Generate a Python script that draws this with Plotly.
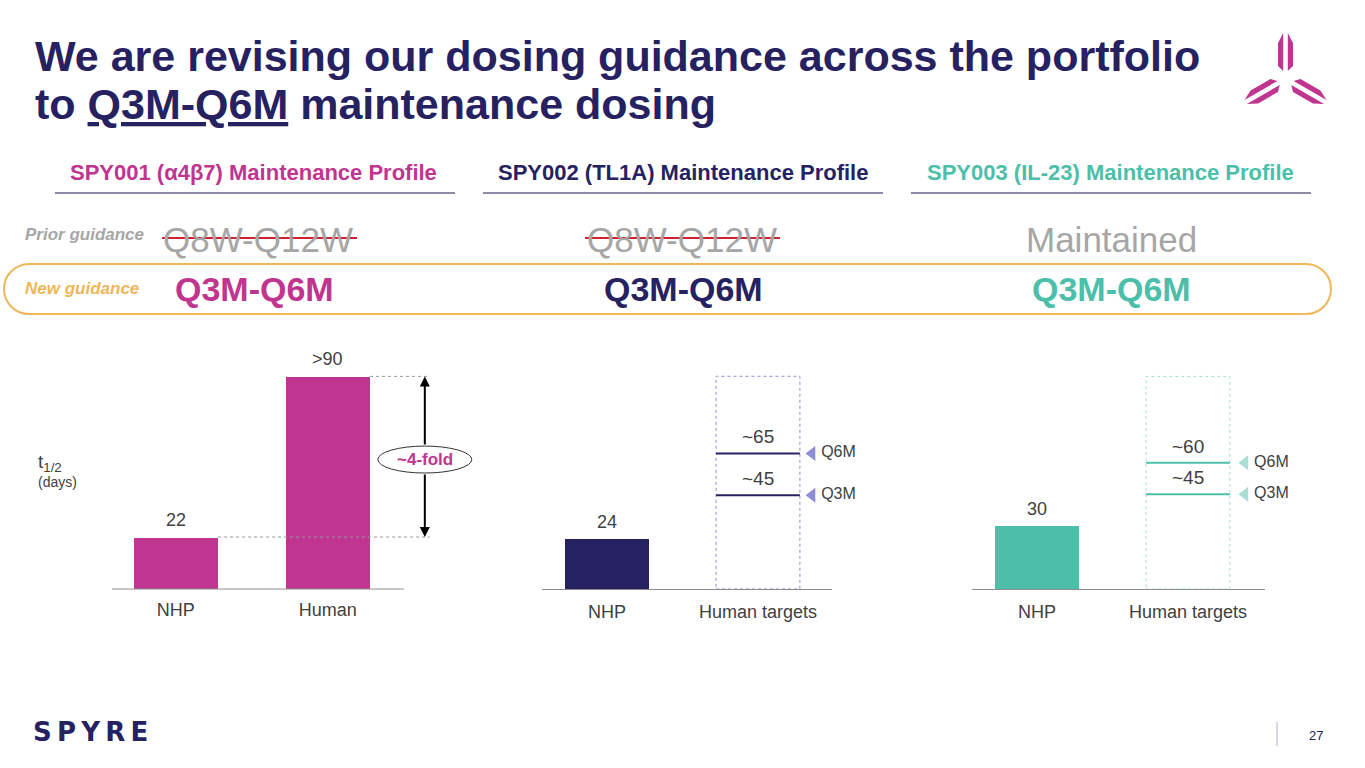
import math
import plotly.graph_objects as go

W, H = 1365, 768


def px(x):
    return x / W


def py(y):
    return 1 - y / H


# ---------------- data ----------------
title_lines = ["We are revising our dosing guidance across the portfolio",
               "to <u>Q3M-Q6M</u> maintenance dosing"]
headers = ["SPY001 (α4β7) Maintenance Profile", "SPY002 (TL1A) Maintenance Profile", "SPY003 (IL-23) Maintenance Profile"]
prior_guidance = ["Q8W-Q12W", "Q8W-Q12W", "Maintained"]
prior_struck = [True, True, False]
new_guidance = ["Q3M-Q6M", "Q3M-Q6M", "Q3M-Q6M"]

spy001_categories = ["NHP", "Human"]
spy001_halflife = [22, 90]
spy001_labels = ["22", ">90"]

target_categories = ["NHP", "Human targets"]
spy002_nhp = [24]
spy002_targets = [65, 45]
spy002_target_labels = ["~65", "~45"]
spy003_nhp = [30]
spy003_targets = [60, 45]
spy003_target_labels = ["~60", "~45"]
dosing_labels = ["Q6M", "Q3M"]
target_box_top = [102, 101]

# ---------------- style ----------------
FONT = "Arial, Liberation Sans, sans-serif"
MAGENTA = "#C0358F"
NAVY = "#262262"
TEAL = "#4BBFA9"
LAVENDER = "#8E8ED6"
LIGHT_TEAL = "#A9DDD5"
GREY_TXT = "#404040"
GREY_GUIDE = "#A6A6A6"
ORANGE = "#F0B65A"
RED = "#D3202E"
BAR_W = 0.555

fig = go.Figure()

fig.add_trace(go.Bar(x=[0, 1], y=spy001_halflife, width=BAR_W, marker_color=MAGENTA,
                     marker_line_width=0, xaxis="x", yaxis="y", hoverinfo="skip"))
fig.add_trace(go.Bar(x=[0], y=spy002_nhp, width=BAR_W, marker_color=NAVY,
                     marker_line_width=0, xaxis="x2", yaxis="y2", hoverinfo="skip"))
fig.add_trace(go.Bar(x=[0], y=spy003_nhp, width=BAR_W, marker_color=TEAL,
                     marker_line_width=0, xaxis="x3", yaxis="y3", hoverinfo="skip"))

annotations = []
shapes = []


def paper_text(x, y, text, size, color, xanchor="center", yanchor="middle", family=None, **kw):
    font = dict(size=size, color=color)
    if family:
        font["family"] = family
    d = dict(x=px(x), y=py(y), xref="paper", yref="paper", xanchor=xanchor, yanchor=yanchor,
             text=text, showarrow=False, font=font)
    d.update(kw)
    annotations.append(d)


for xa, ya, targets, tlabels, lcol, tcol, mx, btop in [
    ("x2", "y2", spy002_targets, spy002_target_labels, NAVY, LAVENDER, 1.358, target_box_top[0]),
    ("x3", "y3", spy003_targets, spy003_target_labels, TEAL, LIGHT_TEAL, 1.377, target_box_top[1]),
]:
    for v, lab in zip(targets, tlabels):
        fig.add_trace(go.Scatter(x=[1 - BAR_W / 2, 1 + BAR_W / 2], y=[v, v], mode="lines",
                                 line=dict(color=lcol, width=2), xaxis=xa, yaxis=ya,
                                 hoverinfo="skip"))
        annotations.append(dict(x=1, y=v, xref=xa, yref=ya, text=lab, showarrow=False,
                                xanchor="center", yanchor="bottom", yshift=4,
                                font=dict(size=19, color=GREY_TXT)))
    fig.add_trace(go.Scatter(x=[mx] * len(targets), y=targets, mode="markers+text",
                             marker=dict(symbol="triangle-left", size=13, color=tcol),
                             text=dosing_labels, textposition="middle right",
                             textfont=dict(size=16, color=GREY_TXT), cliponaxis=False,
                             xaxis=xa, yaxis=ya, hoverinfo="skip"))
    shapes.append(dict(type="rect", xref=xa, yref=ya, x0=1 - BAR_W / 2, x1=1 + BAR_W / 2,
                       y0=0, y1=btop, line=dict(color=tcol, width=1, dash="dot"),
                       fillcolor="rgba(0,0,0,0)", layer="below"))

for i, (v, lab) in enumerate(zip(spy001_halflife, spy001_labels)):
    annotations.append(dict(x=i, y=v, xref="x", yref="y", text=lab, showarrow=False,
                            xanchor="center", yanchor="bottom", yshift=5,
                            font=dict(size=18, color=GREY_TXT)))
for xa, ya, vals in [("x2", "y2", spy002_nhp), ("x3", "y3", spy003_nhp)]:
    annotations.append(dict(x=0, y=vals[0], xref=xa, yref=ya, text=str(vals[0]),
                            showarrow=False, xanchor="center", yanchor="bottom", yshift=5,
                            font=dict(size=18, color=GREY_TXT)))

# Chart 1 baseline + fold-change decoration
shapes.append(dict(type="line", xref="x", yref="y domain", x0=-0.42, x1=1.5, y0=0, y1=0,
                   line=dict(color="#8C8C8C", width=1)))
ARROW_X = 1.638
DOT_END = 1.671
shapes.append(dict(type="line", xref="x", yref="y", x0=1 + BAR_W / 2, x1=DOT_END,
                   y0=spy001_halflife[1], y1=spy001_halflife[1],
                   line=dict(color="#9A9A9A", width=1, dash="dot")))
shapes.append(dict(type="line", xref="x", yref="y", x0=BAR_W / 2, x1=DOT_END,
                   y0=spy001_halflife[0], y1=spy001_halflife[0],
                   line=dict(color="#9A9A9A", width=1, dash="dot")))
ELL_LO, ELL_HI = 49.1, 60.5
shapes.append(dict(type="circle", xref="x", yref="y", x0=1.329, x1=1.947, y0=ELL_LO, y1=ELL_HI,
                   line=dict(color="#333333", width=1), fillcolor="white", layer="above"))
annotations.append(dict(x=(1.329 + 1.947) / 2, y=(ELL_LO + ELL_HI) / 2, xref="x", yref="y",
                        xanchor="center", yanchor="middle",
                        text="<b>~4-fold</b>", showarrow=False,
                        font=dict(size=17, color=MAGENTA)))
for tip in spy001_halflife[::-1]:
    tail = ELL_HI if tip > ELL_HI else ELL_LO
    annotations.append(dict(x=ARROW_X, y=tip, ax=ARROW_X, ay=tail, xref="x", yref="y",
                            axref="x", ayref="y", text="", showarrow=True, arrowhead=2,
                            arrowsize=1, arrowwidth=2, arrowcolor="black", standoff=0,
                            startstandoff=0))

# t1/2 label
paper_text(36, 463, "t<sub>1/2</sub>", 19, GREY_TXT, xanchor="left")
paper_text(36, 482, "(days)", 14, GREY_TXT, xanchor="left")

# Title (two lines)
paper_text(33, 56, "<b>" + title_lines[0] + "</b>", 43, NAVY, xanchor="left")
paper_text(33, 104, "<b>" + title_lines[1] + "</b>", 43, NAVY, xanchor="left")

# Section headers / guidance rows
header_colors = [MAGENTA, NAVY, TEAL]
header_cx = [253, 683, 1110]
line_spans = [(55, 455), (483, 883), (911, 1311)]
prior_cx = [258, 682, 1111]
strike_spans = [(162, 357), (585, 780), None]
new_cx = [254, 683, 1111]
for i in range(3):
    paper_text(header_cx[i], 173, "<b>" + headers[i] + "</b>", 22, header_colors[i])
    shapes.append(dict(type="line", xref="paper", yref="paper", x0=px(line_spans[i][0]),
                       x1=px(line_spans[i][1]), y0=py(193), y1=py(193),
                       line=dict(color="#8C8AA6", width=2)))
    paper_text(prior_cx[i], 239, prior_guidance[i], 35, GREY_GUIDE)
    if prior_struck[i]:
        s = strike_spans[i]
        shapes.append(dict(type="line", xref="paper", yref="paper", x0=px(s[0]), x1=px(s[1]),
                           y0=py(238), y1=py(238), line=dict(color=RED, width=2), layer="above"))
    paper_text(new_cx[i], 289, "<b>" + new_guidance[i] + "</b>", 34, header_colors[i])

paper_text(23, 235, "<b><i>Prior guidance</i></b>", 17, GREY_GUIDE, xanchor="left")
paper_text(23, 289, "<b><i>New guidance</i></b>", 17, ORANGE, xanchor="left")

# rounded "new guidance" frame
L, R, T, B, r = 4, 1331, 264, 314, 25
k = 0.5523 * r
cy = (T + B) / 2


def P(x, y):
    return f"{px(x):.5f},{py(y):.5f}"


path = (f"M {P(L + r, T)} L {P(R - r, T)} "
        f"C {P(R - r + k, T)} {P(R, cy - k)} {P(R, cy)} "
        f"C {P(R, cy + k)} {P(R - r + k, B)} {P(R - r, B)} "
        f"L {P(L + r, B)} "
        f"C {P(L + r - k, B)} {P(L, cy + k)} {P(L, cy)} "
        f"C {P(L, cy - k)} {P(L + r - k, T)} {P(L + r, T)} Z")
shapes.append(dict(type="path", xref="paper", yref="paper", path=path,
                   line=dict(color=ORANGE, width=2), fillcolor="rgba(0,0,0,0)"))

# top-right logo (three double-stroke arms)
CX, CY = 1285.5, 79
for ang in [90, 210, 330]:
    a = math.radians(ang)
    d = (math.cos(a), -math.sin(a))
    n = (-d[1], d[0])
    for sgn in (-1, 1):
        oi, oo = 2.3 * sgn, 7.5 * sgn
        pts = [(8, oi), (46, oi), (36, oo), (13, oo)]
        coords = [(CX + d[0] * rr + n[0] * o, CY + d[1] * rr + n[1] * o) for rr, o in pts]
        p = "M " + " L ".join(P(x, y) for x, y in coords) + " Z"
        shapes.append(dict(type="path", xref="paper", yref="paper", path=p,
                           line=dict(width=0), fillcolor=MAGENTA))

# footer
paper_text(31, 732, "<b>S\u2009P\u2009Y\u2009R\u2009E</b>", 26, NAVY, xanchor="left",
           family="DejaVu Sans")
shapes.append(dict(type="line", xref="paper", yref="paper", x0=px(1277), x1=px(1277),
                   y0=py(722), y1=py(746), line=dict(color="#B9AACB", width=1)))
paper_text(1316, 735, "27", 13, NAVY)

Y_DOM = [py(589), py(357.5)]
tickfont = dict(size=18, color=GREY_TXT)
common_x = dict(tickmode="array", tickvals=[0, 1], showgrid=False, zeroline=False,
                ticks="", tickfont=tickfont, fixedrange=True)
common_y = dict(showgrid=False, zeroline=False, showticklabels=False, showline=False,
                fixedrange=True)

fig.update_layout(
    width=W, height=768,
    margin=dict(l=0, r=0, t=0, b=0),
    paper_bgcolor="white", plot_bgcolor="rgba(0,0,0,0)",
    font=dict(family=FONT, color=GREY_TXT),
    showlegend=False, bargap=0,
    xaxis=dict(domain=[px(112), px(112 + 2.42 * 152)], range=[-0.42, 2.0],
               ticktext=spy001_categories, showline=False, anchor="y",
               ticklabelstandoff=8, **common_x),
    yaxis=dict(domain=Y_DOM, range=[0, 98], anchor="x", **common_y),
    xaxis2=dict(domain=[px(542), px(832)], range=[-0.43, 1.49], ticktext=target_categories,
                showline=True, linecolor="#8C8C8C", linewidth=1, anchor="y2",
                ticklabelstandoff=6, **common_x),
    yaxis2=dict(domain=Y_DOM, range=[0, 111], anchor="x2", **common_y),
    xaxis3=dict(domain=[px(972), px(1265)], range=[-0.43, 1.51], ticktext=target_categories,
                showline=True, linecolor="#8C8C8C", linewidth=1, anchor="y3",
                ticklabelstandoff=6, **common_x),
    yaxis3=dict(domain=Y_DOM, range=[0, 110], anchor="x3", **common_y),
    annotations=annotations,
    shapes=shapes,
)

fig.write_html("out.html", config={"displayModeBar": False},
               post_script="document.body.style.margin='0';")
